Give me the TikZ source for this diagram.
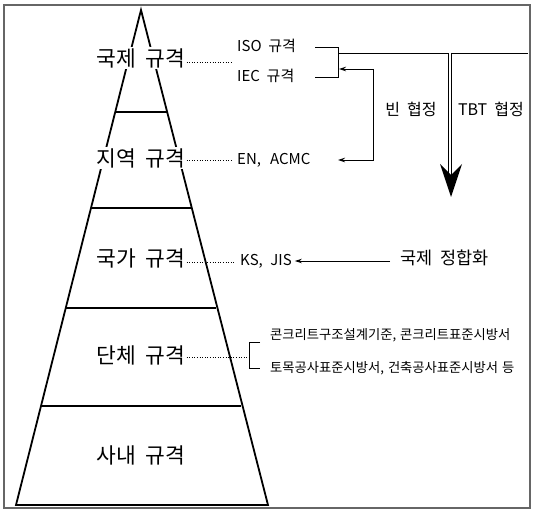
\documentclass[tikz,border=0pt]{standalone}
\usepackage{fontspec}
\setmainfont{Noto Sans CJK KR}
\usetikzlibrary{arrows.meta}
\begin{document}
\begin{tikzpicture}[x=1pt,y=-1pt,
  frame/.style={draw=black!60, line width=1.2pt},
  pyr/.style={line width=1.8pt, line join=miter},
  big/.style={font=\fontsize{21.5}{21.5}\selectfont, fill=white, inner sep=1pt},
  mid/.style={font=\fontsize{15}{15}\selectfont, inner sep=0pt, anchor=west},
  midc/.style={font=\fontsize{16}{16}\selectfont, inner sep=0pt},
  small/.style={font=\fontsize{13.3}{13.3}\selectfont, inner sep=0pt, anchor=west},
  dot/.style={dotted, line width=0.6pt},
  conn/.style={line width=0.9pt},
  arr/.style={conn, -{Stealth[length=7pt,width=4.5pt]}}]
\useasboundingbox (0,0) rectangle (533,510);
\draw[frame] (4,5) rectangle (530,508);

% pyramid
\coordinate (apex) at (141,10);
\coordinate (bl) at (16,505);
\coordinate (br) at (268,505);
\draw[pyr] (apex) -- (bl) -- (br) -- cycle;
\draw[pyr] (115.2,112) -- (166.8,112);
\draw[pyr] (91,208) -- (191,208);
\draw[pyr] (65.7,308) -- (216.3,308);
\draw[pyr] (41,406) -- (241,406);

\node[big] (l1) at (141,58) {국제\hspace{0.45em}규격};
\node[big] (l2) at (141,158) {지역\hspace{0.45em}규격};
\node[big] (l3) at (141,258) {국가\hspace{0.45em}규격};
\node[big] (l4) at (141,355) {단체\hspace{0.45em}규격};
\node[big] (l5) at (141,455) {사내\hspace{0.45em}규격};

% right texts
\node[mid] (iso) at (237,46) {ISO\hspace{0.45em}규격};
\node[mid] (iec) at (237,76) {IEC\hspace{0.45em}규격};
\node[mid] (en) at (237,160) {EN,\hspace{0.6em}ACMC};
\node[mid] (ks) at (240,261) {KS,\hspace{0.5em}JIS};
\node[midc, anchor=west, font=\fontsize{17.5}{17.5}\selectfont] (harm) at (400,258) {국제\hspace{0.45em}정합화};
\node[midc] (bin) at (411,109) {빈\hspace{0.45em}협정};
\node[midc] (tbt) at (491,109) {TBT\hspace{0.45em}협정};
\node[small] (c1) at (270,335) {콘크리트구조설계기준,\hspace{0.3em}콘크리트표준시방서};
\node[small] (c2) at (270,368) {토목공사표준시방서,\hspace{0.3em}건축공사표준시방서\hspace{0.3em}등};

% dotted leaders
\coordinate (d1) at (232,62);
\draw[dot] (l1.east |- d1) -- (d1);
\coordinate (d2) at (232,160);
\draw[dot] (l2.east |- d2) -- (d2);
\coordinate (d3) at (234,262);
\draw[dot] (l3.east |- d3) -- (d3);
\coordinate (d4) at (249,357);
\draw[dot] (l4.east |- d4) -- (d4);

% ISO / IEC bracket and main line
\coordinate (b1) at (338,47);
\coordinate (b2) at (338,77);
\draw[conn] (315,47) -- (b1) -- (b2) -- (315,77);
\coordinate (bm) at (338,53);
\coordinate (re) at (528,53);
\draw[conn] (bm) -- (re);

% Vienna agreement arrows
\coordinate (tv) at (373,69);
\coordinate (bv) at (373,160);
\coordinate (ia) at (339,69);
\coordinate (ea) at (338,160);
\draw[arr] (tv) -- (ia);
\draw[arr] (tv) -- (bv) -- (ea);

% TBT double arrow
\coordinate (ts) at (450,53);
\coordinate (te) at (450,176);
\coordinate (tip) at (451,197);
\draw[line width=1pt, double distance=2.6pt] (ts) -- (te);
\fill (tip) -- (440,164) -- (451,175) -- (462,164) -- cycle;

% harmonisation arrow
\draw[arr] ([xshift=-10pt]harm.west |- ks.east) -- ([xshift=3pt]ks.east);

% list bracket
\coordinate (k1) at (249,342);
\coordinate (k2) at (249,368);
\draw[conn] ([xshift=11pt]k1) -- (k1) -- (k2) -- ([xshift=11pt]k2);
\end{tikzpicture}
\end{document}
